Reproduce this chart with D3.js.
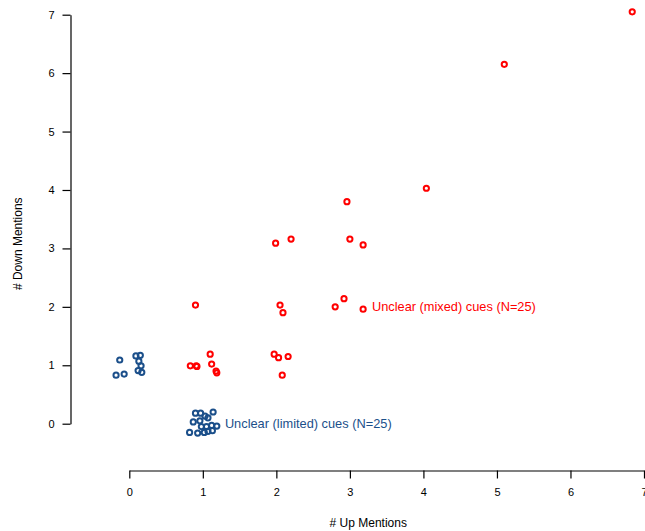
<!DOCTYPE html>
<html>
<head>
<meta charset="utf-8">
<script src="https://cdn.jsdelivr.net/npm/d3@7"></script>
<style>
  html, body { margin: 0; padding: 0; background: #fff; }
  svg { display: block; font-family: "Liberation Sans", Arial, Helvetica, sans-serif; }
</style>
</head>
<body>
<svg id="chart" width="645" height="531"></svg>
<script>
// ---- Data ----
const xTicks = [0, 1, 2, 3, 4, 5, 6, 7];
const yTicks = [0, 1, 2, 3, 4, 5, 6, 7];
const xTitle = "# Up Mentions";
const yTitle = "# Down Mentions";

// Unclear (mixed) cues — jittered (up, down)
const mixedUp = [6.84, 5.10, 4.04, 2.96, 1.99, 2.20, 3.00, 3.18, 0.90, 2.05, 2.09, 2.92, 2.80, 3.18,
                 1.10, 0.83, 0.91, 1.12, 1.18, 1.19, 1.97, 2.03, 2.16, 2.08, 0.92];
const mixedDown = [7.05, 6.15, 4.03, 3.80, 3.09, 3.16, 3.16, 3.06, 2.03, 2.03, 1.90, 2.14, 2.00, 1.96,
                   1.19, 0.99, 0.99, 1.02, 0.90, 0.87, 1.19, 1.13, 1.15, 0.83, 0.98];

// Unclear (limited) cues — jittered (up, down)
const limitedUp = [-0.13, -0.18, -0.07, 0.09, 0.15, 0.13, 0.16, 0.12, 0.17,
                   0.90, 0.97, 1.14, 1.03, 0.87, 0.96, 1.07, 0.98, 1.05, 1.12, 1.19, 0.82, 0.93, 1.02, 1.07, 1.13];
const limitedDown = [1.09, 0.83, 0.85, 1.16, 1.17, 1.07, 0.99, 0.91, 0.88,
                     0.18, 0.18, 0.20, 0.13, 0.03, 0.05, 0.10, -0.05, -0.05, -0.03, -0.04, -0.15, -0.16, -0.15, -0.13, -0.12];

const groupLabels = ["Unclear (mixed) cues (N=25)", "Unclear (limited) cues (N=25)"];
const labelAnchorUp = [3.3, 1.3];
const labelAnchorDown = [2.0, 0.0];
const groupColors = ["#ff0000", "#1b4f8a"];

// ---- Scales ----
const svg = d3.select("#chart");
const x = d3.scaleLinear().domain([0, 7]).range([129.3, 644]);
const y = d3.scaleLinear().domain([0, 7]).range([423.7, 14.7]);
const xAxisY = 470.5;
const yAxisX = 70.5;
// centre of the plotting region (data units) used for axis titles
const xTitleAt = 3.25;
const yTitleAt = 3.08;

// ---- Axes ----
const xAxis = d3.axisBottom(x).tickValues(xTicks).tickFormat(d3.format("d"))
  .tickSizeInner(8).tickSizeOuter(0).tickPadding(10);
const gx = svg.append("g").attr("transform", `translate(0,${xAxisY})`).call(xAxis);

const yAxis = d3.axisLeft(y).tickValues(yTicks).tickFormat(d3.format("d"))
  .tickSizeInner(8).tickSizeOuter(0).tickPadding(8);
const gy = svg.append("g").attr("transform", `translate(${yAxisX},0)`).call(yAxis);

[gx, gy].forEach(g => {
  g.selectAll("path.domain").attr("stroke", "#000").attr("stroke-width", 1.2);
  g.selectAll(".tick line").attr("stroke", "#000").attr("stroke-width", 1.2);
  g.selectAll(".tick text").attr("fill", "#000").style("font-size", "11px")
    .style("font-family", "'Liberation Sans', Arial, Helvetica, sans-serif");
});

// ---- Axis titles ----
svg.append("text")
  .attr("x", x(xTitleAt)).attr("y", 527)
  .attr("text-anchor", "middle").style("font-size", "12px").attr("fill", "#000")
  .text(xTitle);
svg.append("text")
  .attr("transform", `translate(22,${y(yTitleAt)}) rotate(-90)`)
  .attr("text-anchor", "middle").style("font-size", "12px").attr("fill", "#000")
  .text(yTitle);

// ---- Points ----
const groups = [
  { up: mixedUp, down: mixedDown },
  { up: limitedUp, down: limitedDown }
];
groups.forEach((g, gi) => {
  const pts = g.up.map((u, i) => [u, g.down[i]]);
  svg.append("g").selectAll("circle").data(pts).join("circle")
    .attr("cx", d => x(d[0])).attr("cy", d => y(d[1]))
    .attr("r", 2.6)
    .attr("fill", "none")
    .attr("stroke", groupColors[gi])
    .attr("stroke-width", 2);
  svg.append("text")
    .attr("x", x(labelAnchorUp[gi])).attr("y", y(labelAnchorDown[gi]))
    .attr("dy", "0.35em")
    .style("font-size", "12.8px")
    .attr("fill", groupColors[gi])
    .text(groupLabels[gi]);
});
</script>
</body>
</html>
